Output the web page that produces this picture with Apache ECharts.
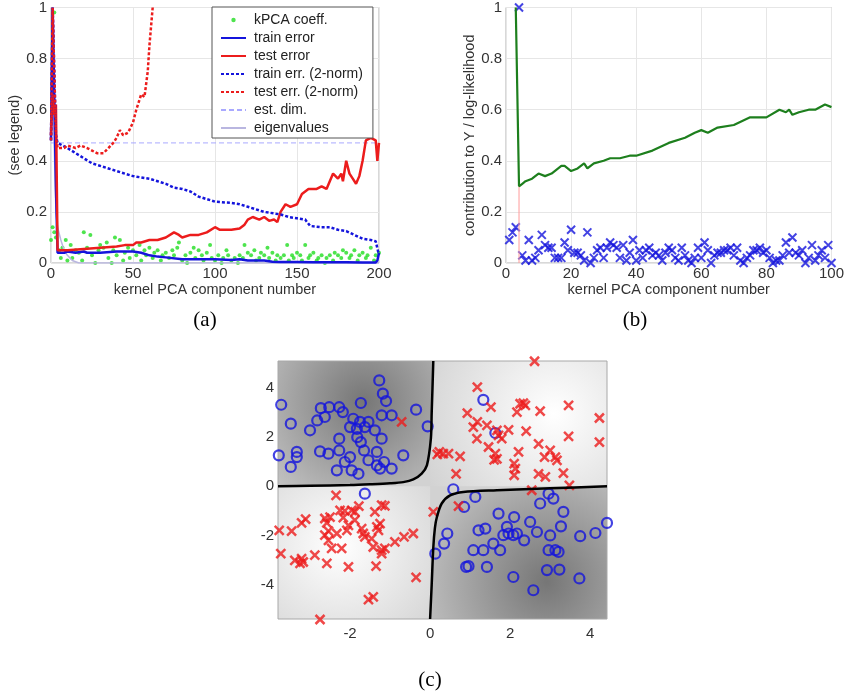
<!DOCTYPE html>
<html>
<head>
<meta charset="utf-8">
<script src="https://cdn.jsdelivr.net/npm/echarts@6/dist/echarts.min.js"></script>
<style>
  html, body { margin: 0; padding: 0; background: #fff; }
  #chart { width: 847px; height: 696px; }
</style>
</head>
<body>
<div id="chart"></div>
<script>
// ---- panel (a): errors vs number of kPCA components ----
var kpcaCoeff = [[0,0.09],[1,0.14],[2,0.98],[2,0.12],[3,0.1],[5,0.05],[6,0.02],[7,0.06],[9,0.09],[10,0.01],[12,0.07],[13,0.02],
  [15,0.05],[17,0.04],[19,0.01],[20,0.12],[22,0.06],[24,0.11],[25,0.03],[27,0.0],[29,0.05],[30,0.07],[32,0.06],[34,0.08],
  [35,0.02],[37,0.0],[38,0.05],[39,0.1],[40,0.03],[42,0.09],[44,0.01],[45,0.04],[47,0.06],[48,0.02],[50,0.05],[52,0.03],
  [54,0.07],[55,0.01],[57,0.05],[58,0.03],[60,0.06],[62,0.02],[63,0.04],[65,0.05],[67,0.01],[68,0.03],[70,0.04],[72,0.02],
  [74,0.05],[75,0.03],[77,0.06],[78,0.08],[80,0.01],[82,0.03],[83,0.0],[85,0.04],[87,0.06],[88,0.02],[90,0.05],[92,0.03],
  [93,0.01],[95,0.04],[97,0.07],[98,0.02],[100,0.01],[102,0.03],[104,0.0],[105,0.02],[107,0.05],[108,0.03],[110,0.01],
  [112,0.02],[114,0.0],[115,0.03],[117,0.02],[118,0.07],[120,0.04],[122,0.03],[124,0.05],[125,0.01],[127,0.02],[128,0.04],
  [130,0.03],[132,0.06],[133,0.02],[135,0.04],[137,0.01],[138,0.03],[140,0.02],[142,0.03],[144,0.07],[145,0.01],[147,0.03],
  [148,0.02],[150,0.04],[152,0.03],[153,0.01],[155,0.07],[157,0.02],[158,0.03],[160,0.04],[162,0.01],[163,0.02],[165,0.03],
  [167,0.0],[168,0.02],[170,0.03],[172,0.01],[173,0.04],[175,0.03],[177,0.02],[178,0.05],[180,0.04],[182,0.02],[183,0.03],
  [185,0.05],[187,0.01],[188,0.03],[190,0.04],[192,0.02],[193,0.03],[195,0.06],[197,0.01],[198,0.03],[200,0.04]];

var trainErr = [[0,0.48],[1,1],[2,1],[3,0.3],[4,0.04],[5,0.035],[8,0.04],[10,0.045],[15,0.04],[20,0.045],[22,0.04],
  [30,0.04],[40,0.045],[50,0.045],[55,0.04],[60,0.03],[65,0.025],[70,0.022],[80,0.015],[90,0.015],[100,0.015],
  [110,0.012],[115,0.015],[120,0.01],[130,0.01],[135,0.005],[140,0.004],[150,0.004],[160,0.003],[170,0.003],
  [180,0.003],[190,0.002],[198,0.002],[199,0.01],[200,0.04]];

var testErr = [[0,0.5],[1,0.66],[2,0.58],[3,0.62],[4,0.05],[5,0.05],[10,0.05],[20,0.055],[30,0.06],[40,0.065],
  [45,0.07],[50,0.07],[52,0.08],[55,0.08],[60,0.09],[65,0.09],[70,0.1],[75,0.12],[78,0.11],[80,0.1],[85,0.11],
  [90,0.11],[95,0.12],[100,0.14],[103,0.13],[110,0.13],[115,0.135],[118,0.15],[120,0.17],[123,0.18],[127,0.17],
  [130,0.18],[133,0.165],[136,0.17],[138,0.16],[140,0.2],[143,0.23],[146,0.22],[150,0.23],[153,0.27],[157,0.29],
  [162,0.29],[165,0.3],[168,0.29],[170,0.32],[172,0.35],[175,0.33],[177,0.35],[178,0.32],[180,0.4],[182,0.35],
  [184,0.33],[186,0.31],[188,0.34],[190,0.4],[192,0.48],[195,0.49],[198,0.48],[199,0.4],[200,0.47]];

var trainErr2 = [[0,0.48],[1,1],[2,1],[3,0.5],[4,0.47],[10,0.45],[15,0.43],[20,0.41],[25,0.39],[30,0.38],[35,0.37],
  [40,0.36],[45,0.35],[50,0.34],[55,0.335],[60,0.33],[65,0.32],[70,0.31],[75,0.295],[80,0.29],[85,0.28],[90,0.26],
  [95,0.25],[100,0.24],[110,0.235],[115,0.23],[120,0.22],[125,0.21],[130,0.2],[140,0.19],[145,0.18],[150,0.175],
  [155,0.17],[158,0.145],[165,0.14],[170,0.14],[175,0.13],[180,0.125],[185,0.11],[190,0.095],[195,0.09],[198,0.085],[200,0.03]];

var testErr2 = [[0,0.48],[1,1],[2,1],[3,0.5],[4,0.45],[8,0.45],[10,0.46],[15,0.45],[18,0.46],[22,0.45],[25,0.44],
  [28,0.43],[32,0.43],[35,0.45],[38,0.47],[40,0.49],[42,0.52],[44,0.5],[47,0.51],[50,0.55],[52,0.6],[55,0.66],
  [57,0.65],[59,0.75],[60,0.85],[62,1]];

var estDim = [[0,0.47],[200,0.47]];
var eigenvalues = [[1,1],[2,0.45],[3,0.2],[4,0.14],[6,0.09],[8,0.05],[10,0.03],[13,0.01],[17,0],[200,0]];

// ---- panel (b): contribution to Y / log-likelihood ----
var contribY = [0.09,0.12,0.14,1.0,0.03,0.01,0.09,0.01,0.02,0.05,0.11,0.07,0.06,0.06,0.02,0.02,0.02,0.08,0.05,0.13,
  0.04,0.04,0.03,0.01,0.12,0.0,0.02,0.05,0.06,0.02,0.06,0.08,0.07,0.06,0.02,0.07,0.01,0.04,0.09,0.01,
  0.05,0.02,0.05,0.06,0.03,0.04,0.03,0.01,0.04,0.06,0.05,0.02,0.01,0.06,0.03,0.01,0.0,0.02,0.06,0.02,
  0.08,0.05,0.0,0.03,0.04,0.04,0.05,0.05,0.06,0.03,0.06,0.01,0.0,0.02,0.03,0.05,0.05,0.06,0.04,0.05,
  0.02,0.0,0.01,0.01,0.03,0.08,0.04,0.1,0.04,0.03,0.05,0.0,0.02,0.07,0.01,0.03,0.05,0.02,0.07,0.0];
var logLik = [[3,1],[4,0.3],[5,0.31],[6,0.32],[8,0.33],[10,0.35],[12,0.34],[14,0.35],[17,0.38],[18,0.38],[20,0.36],
  [22,0.37],[24,0.39],[25,0.37],[27,0.39],[30,0.4],[32,0.41],[35,0.41],[38,0.42],[40,0.42],[45,0.44],[50,0.47],
  [55,0.49],[58,0.51],[60,0.52],[62,0.51],[65,0.53],[70,0.54],[75,0.57],[80,0.57],[84,0.6],[86,0.59],[87,0.6],
  [88,0.58],[90,0.59],[93,0.6],[95,0.6],[98,0.62],[100,0.61]];
var estDimB = [[4,0],[4,0.3]];

// ---- panel (c): toy data and decision boundary ----
var classCircle = [[-3.72,3.32],[-3.48,2.55],[-3.78,1.26],[-3.48,0.79],[-3.33,1.4],[-3.33,1.19],[-3.0,2.28],[-2.82,2.68],
  [-2.73,3.18],[-2.63,2.82],[-2.52,3.22],[-2.27,3.22],[-2.18,3.02],[-2.75,1.42],[-2.54,1.33],[-2.27,1.94],[-2.27,1.46],
  [-2.33,0.65],[-2.13,0.99],[-2.0,1.19],[-1.96,0.65],[-2.0,2.41],[-1.92,2.75],[-1.73,3.39],[-1.82,2.0],[-1.73,1.8],
  [-1.79,0.51],[-1.65,1.46],[-1.63,2.41],[-1.54,2.62],[-1.54,1.06],[-1.38,2.28],[-1.33,1.4],[-1.27,4.31],[-1.18,3.77],
  [-1.1,3.47],[-1.21,1.94],[-1.21,2.89],[-0.96,2.89],[-1.33,0.85],[-1.25,0.72],[-1.15,0.99],[-0.96,0.72],[-0.67,1.26],
  [-0.35,3.12],[-0.06,2.44],[-1.63,-0.3],[-1.75,2.62],[-1.83,2.34],
  [0.58,-0.12],[1.13,-0.43],[0.85,-0.84],[0.43,-1.92],[0.35,-2.33],[0.13,-2.74],[0.9,-3.28],[0.96,-3.25],[1.08,-2.6],
  [1.21,-1.79],[1.38,-1.72],[1.33,-2.6],[1.42,-3.28],[1.58,-2.33],[1.71,-1.11],[1.75,-2.6],[1.83,-1.99],[1.92,-1.65],
  [1.96,-1.92],[2.08,-1.99],[2.1,-1.25],[2.08,-3.69],[2.17,-1.92],[2.35,-2.2],[2.5,-1.45],[2.58,-4.23],[2.67,-1.86],
  [2.75,-0.7],[2.96,-0.3],[3.08,-0.5],[3.0,-2.0],[2.92,-3.41],[2.96,-2.6],[3.13,-2.6],[3.21,-2.67],[3.23,-3.39],
  [3.27,-1.63],[3.33,-1.04],[3.73,-3.75],[3.75,-2.03],[4.13,-1.9],[4.42,-1.49],[1.63,2.17],[1.33,3.52]];
var classCross = [[2.61,5.09],[1.18,4.04],[0.93,2.98],[1.08,2.41],[1.18,2.62],[1.17,1.94],[1.42,2.48],[1.52,3.22],
  [1.67,2.28],[1.71,2.07],[1.79,1.94],[1.46,1.6],[1.63,1.33],[1.67,1.12],[1.6,1.08],[1.96,2.3],[2.17,3.02],[2.33,3.39],
  [2.38,3.29],[2.25,3.36],[2.4,2.25],[2.21,1.4],[2.1,0.92],[2.13,0.72],[2.1,0.45],[2.75,3.06],[2.71,1.73],[2.86,1.19],
  [3.0,1.46],[3.13,1.19],[3.17,1.06],[2.71,0.51],[2.88,0.38],[3.33,0.54],[3.48,0.04],[3.46,3.29],[3.46,2.03],[2.54,-0.16],
  [4.23,2.78],[4.23,1.8],[0.23,1.4],[0.33,1.33],[0.46,1.33],[0.18,1.3],[0.75,1.22],[0.65,0.51],[0.71,-0.81],[0.08,-1.04],
  [-0.35,-3.71],[-0.71,2.62],
  [-2.35,-0.37],[-2.25,-0.98],[-2.13,-1.0],[-1.96,-0.98],[-1.88,-1.04],[-1.78,-0.81],[-2.5,-1.25],[-2.63,-1.31],
  [-2.58,-1.49],[-2.54,-1.82],[-2.63,-1.99],[-2.54,-2.2],[-2.46,-2.53],[-2.21,-2.53],[-2.33,-1.92],[-2.08,-1.79],
  [-2.04,-1.59],[-1.88,-1.38],[-1.71,-1.72],[-1.67,-1.92],[-1.63,-2.06],[-1.46,-2.13],[-1.42,-2.47],[-1.33,-1.65],
  [-1.29,-1.79],[-1.25,-1.52],[-1.38,-1.04],[-1.21,-0.77],[-1.13,-0.8],[-1.21,-2.6],[-1.21,-2.74],[-1.13,-2.53],
  [-0.88,-2.26],[-0.65,-2.06],[-0.42,-1.92],[-3.77,-1.79],[-3.46,-1.82],[-3.21,-1.49],[-3.11,-1.34],[-3.73,-2.74],
  [-3.38,-3.01],[-3.25,-3.14],[-3.21,-2.94],[-3.17,-3.08],[-2.88,-2.8],[-2.58,-3.14],[-2.04,-3.28],[-1.35,-3.25],
  [-1.54,-4.61],[-1.42,-4.5],[-2.75,-5.42],[-2.17,-1.27]];
var boundaryTL = [[0.08,5.1],[0.06,4],[0.04,3],[0.02,1.95],[-0.08,0.85],[-0.21,0.52],[-0.42,0.28],[-0.67,0.17],
  [-1,0.12],[-1.5,0.08],[-2,0.05],[-3,0.02],[-3.8,0.0]];
var boundaryBR = [[0.0,-5.4],[0.04,-4],[0.08,-2.5],[0.12,-1.7],[0.17,-1.25],[0.29,-0.7],[0.5,-0.37],[0.83,-0.23],
  [1.67,-0.16],[3,-0.08],[4.42,0.0]];
var cXRange = [-3.8, 4.42];
var cYRange = [-5.4, 5.1];
var cXTicks = [-2, 0, 2, 4];
var cYTicks = [-4, -2, 0, 2, 4];

var FONT = 'Liberation Sans';
var blue = '#1414dc', red = '#ec1c1c', green = '#22dd22', dkgreen = '#1d7f1d';
var crossPath = 'path://M0,0L10,10M0,10L10,0';
var dotIcon = 'image://data:image/svg+xml;charset=utf-8,' + encodeURIComponent(
  '<svg xmlns="http://www.w3.org/2000/svg" width="25" height="12"><circle cx="12.5" cy="6" r="2.2" fill="' + green + '"/></svg>');

var chart = echarts.init(document.getElementById('chart'));

function plotAxis(gi, min, max, interval, extra) {
  var ax = {
    type: 'value', gridIndex: gi, min: min, max: max, interval: interval,
    axisLine: { show: false }, axisTick: { show: false },
    axisLabel: { color: '#333', fontFamily: FONT, fontSize: 15, margin: 4 },
    splitLine: { show: true, lineStyle: { color: '#e6e6e6', width: 1 } },
    nameTextStyle: { color: '#333', fontFamily: FONT, fontSize: 14.5 }
  };
  for (var k in extra) ax[k] = extra[k];
  return ax;
}

function lineSeries(name, data, color, width, type, xi) {
  return {
    name: name, type: 'line', xAxisIndex: xi, yAxisIndex: xi, data: data,
    symbol: 'none', showSymbol: false, animation: false, z: 3,
    lineStyle: { color: color, width: width, type: type },
    itemStyle: { color: color }
  };
}

var option = {
  backgroundColor: '#fff',
  animation: false,
  grid: [
    { left: 51, top: 5, width: 328, height: 258, show: true, borderColor: '#b0b0b0', borderWidth: 1 },
    { left: 506, top: 5, width: 327, height: 258, show: true, borderColor: '#b0b0b0', borderWidth: 1 },
    { left: 278, top: 361, width: 329, height: 258, show: true, borderColor: '#a8a8a8', borderWidth: 1 }
  ],
  legend: {
    orient: 'vertical', left: 212, top: 7,
    padding: [6, 10, 3, 8],
    backgroundColor: '#fff', borderColor: '#555', borderWidth: 1,
    itemWidth: 25, itemHeight: 12, itemGap: 4,
    textStyle: { color: '#222', fontFamily: FONT, fontSize: 14, lineHeight: 14, padding: [0, 0, 0, 3] },
    data: [
      { name: 'kPCA coeff.', icon: dotIcon },
      { name: 'train error', itemStyle: { opacity: 0 } },
      { name: 'test error', itemStyle: { opacity: 0 } },
      { name: 'train err. (2-norm)', itemStyle: { opacity: 0 } },
      { name: 'test err. (2-norm)', itemStyle: { opacity: 0 } },
      { name: 'est. dim.', itemStyle: { opacity: 0 } },
      { name: 'eigenvalues', itemStyle: { opacity: 0 } }
    ]
  },
  xAxis: [
    plotAxis(0, 0, 200, 50, { name: 'kernel PCA component number', nameLocation: 'middle', nameGap: 19,
      axisLabel: { color: '#333', fontFamily: FONT, fontSize: 15, margin: 3 } }),
    plotAxis(1, 0, 100, 20, { name: 'kernel PCA component number', nameLocation: 'middle', nameGap: 19,
      axisLabel: { color: '#333', fontFamily: FONT, fontSize: 15, margin: 3 } }),
    plotAxis(2, cXRange[0], cXRange[1], null, {
      splitLine: { show: false },
      axisLabel: { color: '#333', fontFamily: FONT, fontSize: 15, margin: 7, customValues: cXTicks },
      axisTick: { show: false, customValues: cXTicks } })
  ],
  yAxis: [
    plotAxis(0, 0, 1, 0.2, { name: '(see legend)', nameLocation: 'middle', nameGap: 27 }),
    plotAxis(1, 0, 1, 0.2, { name: 'contribution to Y / log-likelihood', nameLocation: 'middle', nameGap: 28 }),
    plotAxis(2, cYRange[0], cYRange[1], null, {
      splitLine: { show: false },
      axisLabel: { color: '#333', fontFamily: FONT, fontSize: 15, margin: 4, customValues: cYTicks },
      axisTick: { show: false, customValues: cYTicks } })
  ],
  series: [
    lineSeries('eigenvalues', eigenvalues, '#b9b6e0', 1.5, 'solid', 0),
    lineSeries('est. dim.', estDim, '#a9a9ff', 1, [5, 3], 0),
    { name: 'kPCA coeff.', type: 'scatter', xAxisIndex: 0, yAxisIndex: 0, data: kpcaCoeff,
      symbol: 'circle', symbolSize: 4, itemStyle: { color: green }, z: 2 },
    lineSeries('train error', trainErr, blue, 2.5, 'solid', 0),
    lineSeries('test error', testErr, red, 2.5, 'solid', 0),
    lineSeries('train err. (2-norm)', trainErr2, blue, 2.5, [3, 2], 0),
    lineSeries('test err. (2-norm)', testErr2, red, 2.5, [3, 2], 0),

    { name: 'estdim b', type: 'line', xAxisIndex: 1, yAxisIndex: 1, data: estDimB, symbol: 'none',
      lineStyle: { color: '#ff9a9a', width: 1 } },
    { name: 'log-likelihood', type: 'line', xAxisIndex: 1, yAxisIndex: 1, data: logLik, symbol: 'none',
      lineStyle: { color: dkgreen, width: 2.2 } },
    { name: 'contribution', type: 'scatter', xAxisIndex: 1, yAxisIndex: 1, clip: false,
      data: contribY.map(function (v, i) { return [i + 1, v]; }),
      symbol: crossPath, symbolSize: 8,
      itemStyle: { color: 'transparent', borderColor: blue, borderWidth: 2 } },

    { name: 'boundary 1', type: 'line', xAxisIndex: 2, yAxisIndex: 2, data: boundaryTL, symbol: 'none', smooth: 0.3,
      lineStyle: { color: '#000', width: 2.5 } },
    { name: 'boundary 2', type: 'line', xAxisIndex: 2, yAxisIndex: 2, data: boundaryBR, symbol: 'none', smooth: 0.3,
      lineStyle: { color: '#000', width: 2.5 } },
    { name: 'class o', type: 'scatter', xAxisIndex: 2, yAxisIndex: 2, data: classCircle, clip: false,
      symbol: 'circle', symbolSize: 10, itemStyle: { color: 'transparent', borderColor: blue, borderWidth: 2.2 } },
    { name: 'class x', type: 'scatter', xAxisIndex: 2, yAxisIndex: 2, data: classCross, clip: false,
      symbol: crossPath, symbolSize: 9,
      itemStyle: { color: 'transparent', borderColor: red, borderWidth: 2.5 } }
  ]
};
chart.setOption(option);

// shaded classifier output behind panel (c)
function cpx(x, y) { return chart.convertToPixel({ gridIndex: 2 }, [x, y]); }
var pTL = cpx(cXRange[0], cYRange[1]), pBR = cpx(cXRange[1], cYRange[0]), pO = cpx(0, 0);
function radial(cx, cy, r, c0, c1) {
  return { type: 'radial', x: cx, y: cy, r: r, colorStops: [{ offset: 0, color: c0 }, { offset: 1, color: c1 }] };
}
function shadeRect(x0, y0, x1, y1, fill, z) {
  return { type: 'rect', z: z, silent: true,
    shape: { x: x0, y: y0, width: x1 - x0, height: y1 - y0 }, style: { fill: fill } };
}
function shadePoly(curve, corner, fill) {
  var pts = curve.map(function (p) { return cpx(p[0], p[1]); });
  pts.push(cpx(corner[0], corner[1]));
  return { type: 'polygon', z: -4, silent: true, shape: { points: pts }, style: { fill: fill } };
}
var captions = [['(a)', 205, 320], ['(b)', 635, 320], ['(c)', 430, 680]];
var gfx = [
  shadeRect(pTL[0], pTL[1], pBR[0], pBR[1], '#d2d2d2', -6),
  shadeRect(pO[0], pTL[1], pBR[0], pO[1], radial(0.7, 0.42, 1.15, '#ffffff', '#d2d2d2'), -5),
  shadeRect(pTL[0], pO[1], pO[0], pBR[1], radial(0.4, 0.45, 1.05, '#ffffff', '#cecece'), -5),
  shadePoly(boundaryTL, [cXRange[0], cYRange[1]], radial(0.55, 0.32, 0.95, '#767676', '#c2c2c2')),
  shadePoly(boundaryBR, [cXRange[1], cYRange[0]], radial(0.66, 0.72, 1.0, '#767676', '#c2c2c2'))
];
captions.forEach(function (c) {
  gfx.push({ type: 'text', x: c[1], y: c[2], style: { text: c[0], fill: '#000',
    font: '21px "Liberation Serif"', textAlign: 'center', textVerticalAlign: 'middle' } });
});
chart.setOption({ graphic: gfx });
</script>
</body>
</html>
